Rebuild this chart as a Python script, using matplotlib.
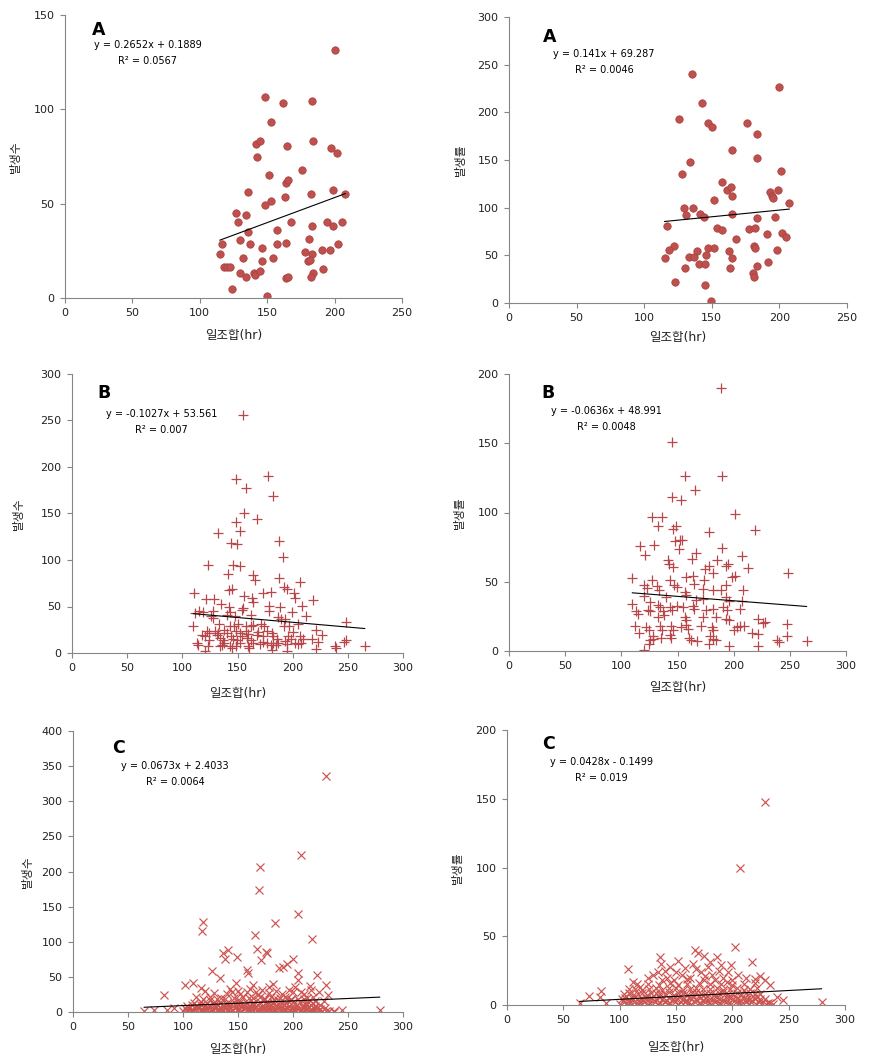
import matplotlib
matplotlib.use("Agg")
import matplotlib.pyplot as plt

plt.rcParams['font.family'] = ['DejaVu Sans', 'Noto Sans CJK KR']

W, H = 879, 1062

# ---- panel A: monthly sums (circles) ----
a_cnt_x = [200, 148.2, 162, 183.5, 152.7, 142, 144.5, 142.8, 165, 184, 197.6, 202, 176, 151, 164.3,
           165.8, 135.4, 199, 182.3, 208, 163, 152.7, 148.2, 126.5, 134, 128, 168, 194, 205.8, 183.5,
           199, 157.6, 136, 116.8, 130, 137, 145.8, 157.6, 164.3, 181.3, 202.8, 114.9, 178.4, 183, 191,
           196.4, 131.7, 154.6, 145.8, 180.6, 182, 118.3, 120.5, 122.3, 191.5, 130, 140, 140.8, 145, 134,
           184.3, 182.8, 164.3, 165.5, 123.8, 150.2]
a_cnt_y = [131.5, 106.6, 103.4, 104.5, 93.3, 81.7, 83.3, 74.5, 80.6, 83.3, 79.6, 76.6, 67.6, 65, 60.7,
           62.6, 56, 57.3, 54.9, 54.9, 53.6, 51.5, 49.4, 44.8, 43.8, 40.4, 40.4, 40.4, 40.4, 38.3,
           38.3, 35.8, 34.8, 28.8, 30.5, 28.8, 26.6, 28.8, 29.3, 31.4, 28.8, 23.5, 24.5, 23.5, 25.6,
           25.6, 21.4, 21.4, 19.8, 19.8, 20.3, 16.6, 16.6, 16.6, 15.5, 13.4, 13.4, 12.4, 14.5, 11.3,
           13.4, 11.3, 10.8, 11.3, 4.6, 0.9]

a_rate_x = [135.1, 200, 142.5, 126, 147.4, 150.4, 175.8, 183.7, 164.7, 183.2, 133.6, 127.7, 201.4, 157.3, 161,
            164, 165.2, 192.8, 194.5, 195.5, 199.2, 151.9, 207.3, 129.7, 136.1, 131.2, 141.3, 144, 164.7, 183.7,
            197, 116.6, 154.1, 157.3, 177.5, 182, 167.9, 191, 202.2, 205.1, 121.8, 118.3, 139.3, 147.4, 151.9,
            163, 181.2, 181.7, 198.5, 115.1, 133.4, 136.6, 146, 165.2, 140.8, 144.7, 191.8, 129.9, 163.5, 183.7,
            180.5, 181.5, 123, 145.2, 149.7]
a_rate_y = [240.6, 227, 210, 193.4, 188.5, 185, 189.2, 177.6, 160, 152.4, 147.6, 135, 138.8, 126.6, 118.5,
            121.3, 112.6, 116, 112.2, 110, 118.9, 108.4, 105.2, 100, 100, 92.7, 93, 90.6, 93, 88.8,
            90.6, 81.1, 78.3, 76.9, 78, 78.3, 67.5, 72.7, 73.8, 69.6, 60.1, 55.2, 54.9, 57.3, 58,
            54.2, 59.4, 57.3, 55.9, 46.9, 48.6, 48.6, 50, 46.9, 41.3, 41.3, 42.7, 36.4, 36.4, 38.5,
            31.1, 26.9, 21.7, 19.2, 2.4]

# ---- panel B (plus markers) ----
b_cnt_x = [154.7, 177.9, 148.3, 157.4, 181.8, 156.2, 167.3, 148.3, 152.2, 132.7,
           187.8, 144.1, 149.2, 190.8, 123.6, 145.6, 152.2, 141.7, 164.3, 166.1,
           187.8, 206.5, 142.6, 145.3, 192.3, 194.5, 173.4, 180.3, 110.9, 201,
           202, 156.2, 121.4, 128.7, 162.8, 164.3, 218.6, 135, 178.5, 208.3,
           115.5, 119.1, 111.9, 128.1, 142, 143.2, 153.7, 155.2, 188.4, 199.6,
           178.8, 125.7, 128.1, 140.2, 147.7, 161.9, 186.3, 189.3, 192.9, 212,
           248.1, 110, 133.6, 143.2, 147.1, 150.1, 157.7, 161.9, 164.3, 171.2,
           174.2, 192.3, 196.3, 204.4, 221, 122, 124.5, 129.6, 132.7, 137.8,
           140.2, 148.6, 152.2, 157.7, 159.8, 168.2, 176.4, 180.9, 200.5, 227,
           117.6, 120.3, 131.1, 134.2, 143.8, 146.2, 154.4, 158.3, 167.3, 173.4,
           182.4, 185.4, 196, 198.1, 206.5, 209.5, 217.1, 124.5, 136.6, 137.8,
           149.8, 152.2, 161.9, 164.3, 173.4, 176.4, 181.8, 184.8, 186.9, 193.5,
           194.8, 202, 204.4, 208, 223.1, 246.6, 248.1, 113, 114.6, 123.6,
           134.2, 135.7, 143.2, 144.7, 148.6, 159.8, 160.7, 170.3, 180, 181.2,
           221, 238.2, 239.7, 265.3, 120.6, 194.5]
b_cnt_y = [256, 190.8, 187.3, 177.2, 168.3, 150.4, 144.3, 140.7, 130.7, 129.3,
           120.7, 118.2, 117.1, 103.1, 94.9, 94.9, 93.8, 84.9, 84.1, 78.8,
           80.2, 76.3, 67.7, 68.7, 70.5, 68.7, 64.8, 65.9, 64.8, 64.8,
           59.4, 60.9, 58.4, 58.4, 58.7, 54.8, 57.3, 53, 50.8, 50.8,
           45.5, 44.4, 43, 45.5, 49, 44, 46.5, 48.3, 49, 44.4,
           45.5, 39.4, 37.6, 40.5, 40.1, 40.5, 38.3, 36.5, 36.5, 39.4,
           32.9, 28.6, 31.1, 28.6, 28.6, 31.1, 29.4, 28.6, 30.1, 31.1,
           28.6, 28.6, 28.6, 31.1, 25.1, 24, 21.5, 23.3, 21.5, 25.1,
           21.5, 23.3, 21.5, 23.3, 20.8, 22.6, 23.3, 21.5, 22.2, 19,
           19, 17.9, 19, 16.1, 17.9, 15, 17.9, 16.1, 19, 17.9,
           17.9, 15, 17.9, 15, 17.9, 15, 15, 13.6, 13.6, 10.7,
           13.6, 10.7, 13.6, 10.7, 11.5, 10.7, 10.7, 9, 10.7, 13.2,
           10, 10.7, 9.3, 10.7, 11.5, 11.5, 13.6, 10.7, 9, 7.9,
           7.2, 9, 7.2, 5.4, 7.2, 7.9, 5.4, 9.7, 9, 3.6,
           4.3, 7.2, 5.4, 7.9, 1.8, 1.8]

b_rate_x = [188.3, 145.5, 156.5, 189.2, 165.4, 145.5, 152.7, 200.8, 127.1, 136,
            132.5, 218.9, 146.1, 148.5, 178.2, 147.9, 152, 154.4, 151.5, 116.7,
            128.9, 189.2, 121.2, 162.5, 166.3, 207, 141.1, 142.6, 146.1, 185.3,
            174.9, 178.2, 181.8, 193, 194.8, 212.9, 248, 109.8, 127.1, 143.4,
            158, 163.4, 173.4, 198.1, 201.1, 119.9, 122.9, 131.9, 133.7, 146.7,
            149.7, 164.5, 172.9, 181.8, 188.3, 193.2, 208.5, 119.9, 140.2, 156.5,
            158, 166.3, 172.9, 193.2, 196, 207, 109.8, 125.9, 132.9, 112.9,
            115, 123.8, 125.3, 134.8, 137.2, 143.1, 145.5, 149.7, 155, 163.4,
            164.5, 175.8, 181.2, 190.7, 194.2, 205.5, 132.9, 137.8, 156.5, 158,
            172.9, 184.7, 193.6, 196, 221.9, 225.7, 227.8, 247.1, 112, 122.3,
            124.6, 134.2, 136.6, 143.8, 146.1, 153.5, 158, 159.5, 170.5, 180.3,
            181.8, 200.2, 202.6, 205.5, 209.1, 216.2, 221.9, 115.8, 128.5, 143.1,
            144.6, 159.8, 161.6, 178.8, 181.8, 184.1, 247.1, 125.9, 128.5, 135.7,
            167.5, 238.8, 240.6, 264.9, 124.6, 178.2, 196, 221.9, 119.9]
b_rate_y = [189.6, 151.1, 126.3, 126.5, 116.6, 111.1, 108.9, 98.6, 96.4, 96.4,
            90.4, 87.7, 88, 90.1, 86, 79.5, 80.5, 80, 73.3, 75.7,
            76.4, 74.5, 69.2, 66.7, 70.8, 68.4, 66, 63.1, 60.7, 66,
            59.5, 61.2, 56.4, 61.2, 63.1, 60.2, 56.4, 53, 51.1, 51.6,
            53.5, 54, 51.1, 53.5, 54, 47.5, 45.8, 46.7, 44.3, 47.5,
            46.3, 48.7, 45.1, 44.3, 44.3, 47.5, 44.3, 39.5, 39, 42.7,
            40.2, 37.1, 37.8, 39, 35.9, 36.1, 34.2, 35.4, 33, 28.9,
            27, 29.9, 28.9, 31.8, 28.9, 31.8, 29.9, 32.3, 31.8, 32.3,
            30.6, 29.9, 30.6, 31.8, 29.9, 30.6, 24.6, 25.8, 24.6, 22.2,
            24.6, 24.6, 23.4, 22.7, 23.4, 20.2, 21, 19.3, 17.8, 17.3,
            15.4, 17.8, 14.9, 17.8, 15.4, 17.3, 18.6, 16.1, 17.8, 17.3,
            15.4, 15.4, 17.3, 17.8, 17.8, 13, 12, 13, 10.6, 11.3,
            9.6, 9.6, 7.7, 10.6, 8.9, 8.2, 10.6, 7.7, 8.9, 9.6,
            7.2, 8.2, 6.5, 7.2, 4.8, 4.8, 3.4, 3.4, 1]

# ---- panel C (x markers), read as (x, y) pairs ----
c_cnt_pts = [
    (229.8, 336), (207.1, 224), (170, 206), (169.3, 173), (204.1, 140), (118.5, 128), (117.3, 115),
    (183.9, 127), (165.7, 110), (217.1, 104), (136.7, 84), (141.2, 88), (138.2, 76), (149.4, 78),
    (167.5, 89), (170.5, 74), (175.9, 85), (176, 84), (157.8, 60), (159.4, 55), (126.4, 58),
    (133.6, 48), (187.5, 63), (191.1, 64), (194.1, 69), (199.6, 75), (221.4, 53), (204.1, 55),
    (204.1, 46), (215.3, 37), (229.8, 39), (102.2, 38), (108.9, 41), (116.1, 34), (82.9, 24),
    (148.2, 41), (163.9, 38), (178.4, 36), (182, 40), (231.9, 24),
    (64.7, 1), (73.6, 3), (85.7, 3), (92, 5), (244.9, 3), (278.8, 3), (237.4, 2),
    (120, 30), (125, 22), (128, 27), (131, 18), (135, 20), (140, 25), (143, 33), (146, 20),
    (150, 30), (152, 25), (155, 22), (158, 28), (161, 33), (164, 20), (166, 28), (168, 24),
    (172, 32), (175, 18), (178, 27), (180, 22), (185, 30), (188, 20), (190, 26), (193, 22),
    (196, 32), (198, 18), (202, 35), (205, 18), (207, 28), (210, 25), (213, 20), (216, 32),
    (218, 22), (220, 16), (224, 28), (228, 15), (112, 22), (118, 18), (145, 28), (160, 20),
    (170, 22), (183, 18), (195, 20), (200, 28),
    (100, 1), (104, 2), (107, 0.5), (109, 1.5), (113, 2.5), (116, 0.8), (118, 1.8), (122, 2.2),
    (125, 0.6), (127, 1.4), (131, 2.6), (134, 0.9), (136, 1.7), (140, 2.3), (143, 0.7), (145, 1.2),
    (149, 2.8), (152, 0.5), (154, 1.9), (158, 2.4), (161, 1.1), (163, 0.6), (167, 2.1), (170, 1.6),
    (172, 0.8), (176, 2.7), (179, 1.3), (181, 0.4), (185, 2.2), (188, 1.8), (190, 0.9), (194, 2.5),
    (197, 1.2), (199, 0.6), (203, 2.0), (206, 1.5), (208, 0.7), (212, 2.4), (215, 1.0), (217, 1.9),
    (221, 0.5), (224, 2.2), (226, 1.3), (230, 0.8), (233, 1.6), (237, 0.5),
    (102, 5), (105, 6), (108, 4.5), (111, 5.5), (114, 6.5), (117, 4), (120, 5.2), (123, 6.2),
    (126, 4.4), (129, 5.8), (132, 4.8), (135, 6.4), (138, 5), (141, 4.2), (144, 6), (147, 5.4),
    (150, 4.6), (153, 6.6), (156, 5.1), (159, 4.3), (162, 5.9), (165, 6.3), (168, 4.7), (171, 5.6),
    (174, 4.1), (177, 6.1), (180, 5.3), (183, 4.5), (186, 6.7), (189, 5), (192, 4.4), (195, 5.7),
    (198, 6.2), (201, 4.8), (204, 5.5), (207, 4.2), (210, 6), (213, 5.2), (216, 4.6), (219, 5.8),
    (222, 6.4), (225, 4.9), (229, 5.3),
    (104, 9), (108, 10), (112, 8.5), (116, 9.5), (120, 10.5), (124, 8.2), (128, 9.8), (132, 10.2),
    (136, 8.8), (140, 9.4), (144, 10.8), (148, 8.6), (152, 9.9), (156, 10.4), (160, 8.3), (164, 9.7),
    (168, 10.6), (172, 8.9), (176, 9.3), (180, 10.1), (184, 8.4), (188, 9.6), (192, 10.7), (196, 8.7),
    (200, 9.2), (204, 10.3), (208, 8.5), (212, 9.9), (216, 10.2), (220, 8.8), (225, 9.4),
    (110, 13), (116, 14), (122, 12.5), (128, 13.5), (134, 14.5), (140, 12.8), (146, 13.8), (152, 14.2),
    (158, 12.6), (164, 13.4), (170, 14.6), (176, 12.9), (182, 13.7), (188, 14.3), (194, 12.7),
    (200, 13.6), (206, 14.1), (212, 12.4), (218, 13.2),
    (125, 17), (138, 18), (150, 16.5), (162, 17.5), (174, 18.5), (186, 16.8), (198, 17.2), (210, 18),
]

c_rate_pts = [
    (228.9, 148), (206.7, 100), (107.5, 26), (135.6, 35), (137.1, 30), (202.2, 42), (217.1, 31),
    (166.7, 40), (169.7, 38), (175, 36), (186, 35), (198.4, 29), (64.6, 1.7), (72.6, 6.5),
    (83.2, 10), (82.3, 5.6), (88.2, 1.2), (245.2, 3.6), (279.2, 2.4), (231.9, 1.2), (112, 17),
    (118, 13), (224.4, 21), (229, 18), (233.5, 14.5), (240, 6),
    (125, 20), (130, 22), (140, 25), (145, 28), (150, 24), (155, 22), (158, 27), (162, 20),
    (165, 30), (172, 24), (178, 28), (182, 22), (188, 25), (192, 20), (196, 24), (200, 18),
    (205, 22), (212, 20), (220, 19), (148, 18), (160, 19), (168, 26), (185, 18), (142, 20),
    (152, 32), (180, 31), (190, 29), (134, 24), (176, 21),
    (100, 1), (104, 2), (107, 0.5), (109, 1.5), (113, 2.0), (116, 0.8), (118, 1.8), (122, 2.2),
    (125, 0.6), (127, 1.4), (131, 2.4), (134, 0.9), (136, 1.7), (140, 2.3), (143, 0.7), (145, 1.2),
    (149, 2.5), (152, 0.5), (154, 1.9), (158, 2.4), (161, 1.1), (163, 0.6), (167, 2.1), (170, 1.6),
    (172, 0.8), (176, 2.4), (179, 1.3), (181, 0.4), (185, 2.2), (188, 1.8), (190, 0.9), (194, 2.5),
    (197, 1.2), (199, 0.6), (203, 2.0), (206, 1.5), (208, 0.7), (212, 2.4), (215, 1.0), (217, 1.9),
    (221, 0.5), (224, 2.2), (226, 1.3), (230, 0.8), (233, 1.6), (236, 0.5),
    (102, 4.5), (105, 5.2), (108, 4), (111, 4.8), (114, 5.5), (117, 3.8), (120, 4.6), (123, 5.4),
    (126, 4.1), (129, 5.0), (132, 4.3), (135, 5.6), (138, 4.5), (141, 3.9), (144, 5.3), (147, 4.7),
    (150, 4.2), (153, 5.7), (156, 4.6), (159, 4.0), (162, 5.1), (165, 5.5), (168, 4.3), (171, 4.9),
    (174, 3.8), (177, 5.3), (180, 4.7), (183, 4.1), (186, 5.8), (189, 4.5), (192, 4.0), (195, 5.0),
    (198, 5.4), (201, 4.3), (204, 4.8), (207, 3.9), (210, 5.2), (213, 4.6), (216, 4.2), (219, 5.0),
    (222, 5.5), (225, 4.4), (229, 4.7),
    (104, 8), (108, 8.6), (112, 7.5), (116, 8.3), (120, 9), (124, 7.3), (128, 8.5), (132, 8.9),
    (136, 7.8), (140, 8.2), (144, 9.3), (148, 7.6), (152, 8.6), (156, 9.0), (160, 7.4), (164, 8.4),
    (168, 9.2), (172, 7.9), (176, 8.1), (180, 8.8), (184, 7.5), (188, 8.4), (192, 9.3), (196, 7.7),
    (200, 8.0), (204, 9.0), (208, 7.5), (212, 8.6), (216, 8.9), (220, 7.8), (225, 8.2),
    (108, 11.5), (114, 12), (120, 11), (126, 11.8), (132, 12.5), (138, 11.2), (144, 12.1), (150, 12.4),
    (156, 11.1), (162, 11.7), (168, 12.6), (174, 11.3), (180, 12), (186, 12.4), (192, 11.1),
    (198, 11.9), (204, 12.2), (210, 11), (216, 11.6), (222, 12.3),
    (115, 15), (125, 15.5), (135, 14.5), (145, 15.8), (152, 14.8), (160, 15.4), (170, 16), (180, 15),
    (190, 15.6), (200, 14.6), (210, 15.2), (220, 15.8), (138, 18), (175, 18.5), (195, 17),
]
c_cnt_x = [p[0] for p in c_cnt_pts]
c_cnt_y = [p[1] for p in c_cnt_pts]
c_rate_x = [p[0] for p in c_rate_pts]
c_rate_y = [p[1] for p in c_rate_pts]

XLABEL = '일조합(hr)'
RED = '#C0504D'
AXIS_GRAY = '#868686'

fig = plt.figure(figsize=(W / 100, H / 100), dpi=100)


def make_axes(left, right, top, bottom):
    return fig.add_axes([left / W, 1 - bottom / H, (right - left) / W, (bottom - top) / H])


def panel(box, xs, ys, style, coef, eq, r2, letter, ylab, xmax, ymax, ystep,
          letter_pos, eq_pos, r2_pos, ylab_off, xlab_off):
    ax = make_axes(*box)
    aw = box[1] - box[0]
    ah = box[3] - box[2]
    if style == 'o':
        ax.plot(xs, ys, 'o', ms=5.3, mfc=RED, mec='#A84442', mew=0.6, zorder=3)
    elif style == '+':
        ax.plot(xs, ys, '+', ms=6.5, mew=0.9, color='#B8474A', zorder=3)
    else:
        ax.plot(xs, ys, 'x', ms=6.2, mew=0.85, color='#CC5450', zorder=3)
    lo, hi = min(xs), max(xs)
    ax.plot([lo, hi], [coef[0] * lo + coef[1], coef[0] * hi + coef[1]], color='black', lw=0.8, zorder=4)

    ax.set_xlim(0, xmax)
    ax.set_ylim(0, ymax)
    ax.set_xticks(range(0, xmax + 1, 50))
    ax.set_yticks(range(0, ymax + 1, ystep))
    for s in ['top', 'right']:
        ax.spines[s].set_visible(False)
    for s in ['left', 'bottom']:
        ax.spines[s].set_color(AXIS_GRAY)
        ax.spines[s].set_linewidth(0.8)
    ax.spines['bottom'].set_zorder(5)
    ax.tick_params(direction='out', length=3.5, width=0.8, color=AXIS_GRAY,
                   labelsize=8, labelcolor='#222222', pad=4)
    ax.set_xlabel(XLABEL, fontsize=9, color='#222222', va='center')
    ax.xaxis.set_label_coords(0.5, -xlab_off / ah)
    ax.set_ylabel(ylab, fontsize=8.5, color='#222222', va='center')
    ax.yaxis.set_label_coords(-ylab_off / aw, 0.5)
    ax.patch.set_alpha(0)

    ax.text(*letter_pos, letter, transform=ax.transAxes, fontsize=12.5, fontweight='bold',
            ha='center', va='center')
    ax.text(*eq_pos, eq, transform=ax.transAxes, fontsize=7, ha='center', va='center')
    ax.text(*r2_pos, r2, transform=ax.transAxes, fontsize=7, ha='center', va='center')
    return ax


panel((65, 402, 15, 298), a_cnt_x, a_cnt_y, 'o', (0.2652, 0.1889),
      'y = 0.2652x + 0.1889', 'R² = 0.0567', 'A', '발생수', 250, 150, 50,
      (0.10, 0.947), (0.246, 0.894), (0.246, 0.837), 50, 37)
panel((509, 847, 17, 303), a_rate_x, a_rate_y, 'o', (0.141, 69.287),
      'y = 0.141x + 69.287', 'R² = 0.0046', 'A', '발생률', 250, 300, 50,
      (0.119, 0.931), (0.28, 0.871), (0.281, 0.815), 49, 34)
panel((72, 403, 374, 653), b_cnt_x, b_cnt_y, '+', (-0.1027, 53.561),
      'y = -0.1027x + 53.561', 'R² = 0.007', 'B', '발생수', 300, 300, 50,
      (0.098, 0.931), (0.271, 0.857), (0.271, 0.799), 54, 40)
panel((509, 846, 374, 651), b_rate_x, b_rate_y, '+', (-0.0636, 48.991),
      'y = -0.0636x + 48.991', 'R² = 0.0048', 'B', '발생률', 300, 200, 50,
      (0.117, 0.933), (0.29, 0.866), (0.29, 0.81), 50, 36)
panel((73, 403, 731, 1012), c_cnt_x, c_cnt_y, 'x', (0.0673, 2.4033),
      'y = 0.0673x + 2.4033', 'R² = 0.0064', 'C', '발생수', 300, 400, 50,
      (0.137, 0.938), (0.31, 0.875), (0.31, 0.818), 46, 38)
panel((507, 845, 730, 1005), c_rate_x, c_rate_y, 'x', (0.0428, -0.1499),
      'y = 0.0428x - 0.1499', 'R² = 0.019', 'C', '발생률', 300, 200, 50,
      (0.122, 0.948), (0.28, 0.884), (0.28, 0.825), 50, 42)

fig.savefig('out.png', dpi=100)
